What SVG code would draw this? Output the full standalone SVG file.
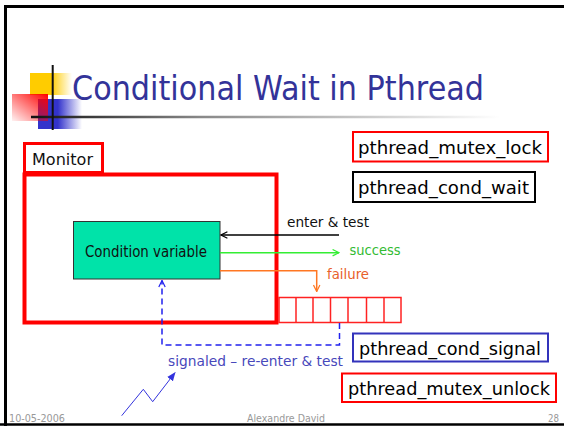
<svg xmlns="http://www.w3.org/2000/svg" width="564" height="426" viewBox="0 0 564 426">
<style>
.lbl{font-family:"DejaVu Sans","Liberation Sans",sans-serif;}
.code{font-family:"DejaVu Sans","Liberation Sans",sans-serif;font-size:18px;fill:#000;}
.foot{font-family:"DejaVu Sans","Liberation Sans",sans-serif;font-size:10px;fill:#999;}
.fn{fill:#fff;stroke-width:2;}
</style>
<defs>
<linearGradient id="gy" x1="0" y1="0" x2="1" y2="0"><stop offset="0.5" stop-color="#FFCC00"/><stop offset="1" stop-color="#FFCC00" stop-opacity="0"/></linearGradient>
<linearGradient id="gb" x1="0" y1="0" x2="1" y2="0"><stop offset="0.45" stop-color="#3333CC"/><stop offset="1" stop-color="#3333CC" stop-opacity="0"/></linearGradient>
<linearGradient id="gr" x1="1" y1="0" x2="0" y2="1"><stop offset="0" stop-color="#FF0000"/><stop offset="1" stop-color="#FF0000" stop-opacity="0.05"/></linearGradient>
<linearGradient id="gl" gradientUnits="userSpaceOnUse" x1="31" y1="0" x2="500" y2="0"><stop offset="0" stop-color="#111"/><stop offset="0.36" stop-color="#888"/><stop offset="1" stop-color="#fff"/></linearGradient>
<marker id="ak" viewBox="0 0 10 10" refX="9" refY="5" markerWidth="8" markerHeight="8" orient="auto" markerUnits="userSpaceOnUse"><path d="M1,1 L9,5 L1,9" fill="none" stroke="#000" stroke-width="1.5"/></marker>
<marker id="ag" viewBox="0 0 10 10" refX="9" refY="5" markerWidth="8" markerHeight="8" orient="auto" markerUnits="userSpaceOnUse"><path d="M1,1 L9,5 L1,9" fill="none" stroke="#33EE33" stroke-width="1.5"/></marker>
<marker id="ao" viewBox="0 0 10 10" refX="9" refY="5" markerWidth="8" markerHeight="8" orient="auto" markerUnits="userSpaceOnUse"><path d="M1,1 L9,5 L1,9" fill="none" stroke="#FF7722" stroke-width="1.5"/></marker>
<marker id="ab" viewBox="0 0 10 10" refX="9" refY="5" markerWidth="8" markerHeight="8" orient="auto" markerUnits="userSpaceOnUse"><path d="M1,1 L9,5 L1,9" fill="none" stroke="#2222EE" stroke-width="1.5"/></marker>
<marker id="af" viewBox="0 0 10 10" refX="9" refY="5" markerWidth="9" markerHeight="9" orient="auto" markerUnits="userSpaceOnUse"><path d="M0,1 L10,5 L0,9 Z" fill="#3333DD"/></marker>
</defs>
<rect width="564" height="426" fill="#fff"/>
<path d="M5.5,426 V6.5 H564" fill="none" stroke="#000" stroke-width="3"/>
<line x1="0" y1="424.5" x2="564" y2="424.5" stroke="#000" stroke-width="2.5"/>
<g id="logo">
<rect x="30" y="73" width="42" height="22" fill="url(#gy)"/>
<rect x="38" y="99" width="44" height="30" fill="url(#gb)"/>
<rect x="12" y="94" width="36" height="27" fill="url(#gr)"/>
<line x1="31" y1="117" x2="500" y2="117" stroke="url(#gl)" stroke-width="2.5"/>
<line x1="52.7" y1="65" x2="52.7" y2="130" stroke="#111" stroke-width="2"/>
</g>
<text id="title" x="72" y="100" class="lbl" font-size="34" fill="#333399" textLength="412" lengthAdjust="spacingAndGlyphs">Conditional Wait in Pthread</text>
<g id="monitor">
<rect x="24.5" y="174.5" width="252" height="148" fill="none" stroke="#FF0000" stroke-width="4"/>
<rect x="24.5" y="143.5" width="78" height="29" fill="#fff" stroke="#FF0000" stroke-width="3"/>
<text x="32" y="165" class="lbl" font-size="16.5" fill="#111" textLength="61" lengthAdjust="spacingAndGlyphs">Monitor</text>
</g>
<g id="condvar">
<rect x="73.5" y="221.5" width="146.5" height="57.5" fill="#00E3A9" stroke="#333" stroke-width="1"/>
<text x="85" y="257" class="lbl" font-size="15" fill="#111" textLength="122" lengthAdjust="spacingAndGlyphs">Condition variable</text>
</g>
<g id="queue" fill="none" stroke="#FF2222" stroke-width="1.5">
<rect x="279" y="297.5" width="122" height="25"/>
<line x1="296" y1="297.5" x2="296" y2="322.5"/>
<line x1="313" y1="297.5" x2="313" y2="322.5"/>
<line x1="330.5" y1="297.5" x2="330.5" y2="322.5"/>
<line x1="348" y1="297.5" x2="348" y2="322.5"/>
<line x1="366.5" y1="297.5" x2="366.5" y2="322.5"/>
<line x1="384" y1="297.5" x2="384" y2="322.5"/>
</g>
<g id="connectors" fill="none">
<line x1="339" y1="235" x2="221" y2="235" stroke="#000" stroke-width="1.5" marker-end="url(#ak)"/>
<line x1="220" y1="252.7" x2="339" y2="252.7" stroke="#33EE33" stroke-width="1.5" marker-end="url(#ag)"/>
<path d="M220,270.7 H316.7 V291.5" stroke="#FF7722" stroke-width="1.5" marker-end="url(#ao)"/>
<path d="M339.5,323 V345 H162 V280.5" stroke="#2222EE" stroke-width="1.5" stroke-dasharray="6,4" marker-end="url(#ab)"/>
<path d="M121.7,415.7 L143.3,389.3 L152.7,401.7 L175,372.7" stroke="#3333DD" stroke-width="1" marker-end="url(#af)"/>
</g>
<g id="labels" class="lbl">
<text x="287" y="226.5" font-size="14" fill="#111" textLength="82" lengthAdjust="spacingAndGlyphs">enter &amp; test</text>
<text x="349.5" y="255" font-size="14" fill="#33BB33" textLength="51" lengthAdjust="spacingAndGlyphs">success</text>
<text x="327" y="279" font-size="14" fill="#E8602A" textLength="42" lengthAdjust="spacingAndGlyphs">failure</text>
<text x="168" y="366" font-size="14" fill="#4848BB" textLength="175" lengthAdjust="spacingAndGlyphs">signaled – re-enter &amp; test</text>
</g>
<g id="lock"><rect x="353" y="132" width="195" height="29.5" class="fn" stroke="#FF0000"/><text x="358" y="154" class="code" textLength="184" lengthAdjust="spacingAndGlyphs">pthread_mutex_lock</text></g>
<g id="wait"><rect x="353" y="172" width="182" height="30" class="fn" stroke="#000"/><text x="358" y="194" class="code" textLength="171" lengthAdjust="spacingAndGlyphs">pthread_cond_wait</text></g>
<g id="signal"><rect x="353" y="333.5" width="195" height="28" class="fn" stroke="#3333BB"/><text x="359" y="355" class="code" textLength="182" lengthAdjust="spacingAndGlyphs">pthread_cond_signal</text></g>
<g id="unlock"><rect x="342" y="373.5" width="214" height="28.5" class="fn" stroke="#FF0000"/><text x="348" y="395" class="code" textLength="202" lengthAdjust="spacingAndGlyphs">pthread_mutex_unlock</text></g>
<g id="footer">
<text x="9" y="422" class="foot" textLength="56" lengthAdjust="spacingAndGlyphs">10-05-2006</text>
<text x="247" y="422" class="foot" textLength="78" lengthAdjust="spacingAndGlyphs">Alexandre David</text>
<text x="548" y="422" class="foot" textLength="11" lengthAdjust="spacingAndGlyphs">28</text>
</g>
</svg>
